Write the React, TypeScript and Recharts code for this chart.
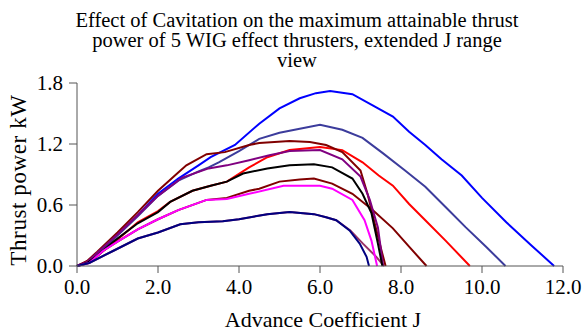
import { LineChart, Line, XAxis, YAxis } from "recharts";

// [advance coefficient J, thrust power kW]
const blueNoCav: [number, number][] = [
  [0, 0], [0.25, 0.04], [0.5, 0.12], [1.0, 0.31], [1.5, 0.5], [2.0, 0.71], [2.5, 0.86],
  [3.0, 0.99], [3.3, 1.07], [3.9, 1.19], [4.5, 1.4], [5.0, 1.55], [5.5, 1.65], [5.9, 1.7],
  [6.25, 1.72], [6.8, 1.69], [7.3, 1.58], [7.8, 1.47], [8.2, 1.32], [8.6, 1.19], [9.0, 1.05],
  [9.5, 0.89], [10.0, 0.67], [10.6, 0.43], [11.2, 0.21], [11.78, 0],
];
const indigoNoCav: [number, number][] = [
  [0, 0], [0.25, 0.04], [0.5, 0.12], [1.0, 0.3], [1.5, 0.49], [2.0, 0.69], [2.5, 0.84],
  [3.0, 0.93], [3.25, 0.97], [3.5, 1.02], [4.0, 1.13], [4.5, 1.25], [5.0, 1.31], [5.5, 1.35],
  [6.0, 1.39], [6.55, 1.34], [7.05, 1.26], [7.55, 1.11], [8.1, 0.94], [8.6, 0.78], [9.1, 0.58],
  [9.6, 0.38], [10.1, 0.19], [10.58, 0],
];
const redNoCav: [number, number][] = [
  [0, 0], [0.25, 0.03], [0.5, 0.1], [1.0, 0.26], [1.5, 0.43], [2.0, 0.54], [2.3, 0.63],
  [2.85, 0.74], [3.3, 0.79], [3.7, 0.83], [4.25, 0.97], [4.7, 1.07], [5.25, 1.14], [6.0, 1.17],
  [6.55, 1.14], [7.05, 1.02], [7.45, 0.89], [7.8, 0.79], [8.2, 0.61], [8.6, 0.45], [9.1, 0.25],
  [9.7, 0],
];
const maroonNoCav: [number, number][] = [
  [0, 0], [0.3, 0.03], [0.65, 0.15], [1.0, 0.24], [1.5, 0.36], [2.0, 0.46], [2.5, 0.55],
  [3.2, 0.65], [3.7, 0.67], [4.25, 0.74], [4.5, 0.76], [5.0, 0.83], [5.5, 0.85], [5.85, 0.86],
  [6.3, 0.81], [6.8, 0.71], [7.3, 0.55], [7.8, 0.37], [8.2, 0.19], [8.63, 0],
];
const plumNoCav: [number, number][] = [
  [0, 0], [0.3, 0.03], [0.9, 0.15], [1.5, 0.27], [2.0, 0.33], [2.55, 0.41], [3.0, 0.43],
  [3.6, 0.44], [3.8, 0.45], [4.0, 0.46], [4.7, 0.51], [5.25, 0.53], [5.85, 0.51], [6.15, 0.48],
  [6.4, 0.45], [6.75, 0.35], [7.06, 0.22], [7.39, 0.09], [7.58, 0],
];

const darkRedCav: [number, number][] = [
  [0, 0], [0.25, 0.05], [0.5, 0.14], [1.0, 0.33], [1.5, 0.53], [2.0, 0.74], [2.5, 0.92],
  [2.7, 0.99], [3.2, 1.1], [3.65, 1.12], [4.25, 1.19], [4.5, 1.21], [5.25, 1.23], [5.75, 1.22],
  [6.15, 1.19], [6.55, 1.12], [7.0, 0.94], [7.18, 0.7], [7.35, 0.42], [7.52, 0.15], [7.62, 0],
];
const violetCav: [number, number][] = [
  [0, 0], [0.25, 0.04], [0.5, 0.13], [1.0, 0.31], [1.5, 0.5], [2.0, 0.69], [2.6, 0.87],
  [3.25, 0.96], [3.7, 0.99], [4.25, 1.04], [4.75, 1.09], [5.25, 1.13], [6.0, 1.14],
  [6.55, 1.05], [7.0, 0.88], [7.23, 0.65], [7.43, 0.38], [7.56, 0],
];
const blackCav: [number, number][] = [
  [0, 0], [0.25, 0.03], [0.5, 0.1], [0.9, 0.24], [1.5, 0.42], [2.0, 0.53], [2.3, 0.63],
  [2.85, 0.74], [3.3, 0.79], [3.7, 0.83], [4.1, 0.91], [4.7, 0.96], [5.25, 0.99], [5.85, 1.0],
  [6.3, 0.97], [6.8, 0.86], [7.05, 0.71], [7.27, 0.52], [7.43, 0.22], [7.54, 0],
];
const pinkCav: [number, number][] = [
  [0, 0], [0.3, 0.03], [0.65, 0.15], [1.0, 0.24], [1.5, 0.36], [2.0, 0.46], [2.5, 0.55],
  [3.2, 0.65], [3.7, 0.66], [4.25, 0.71], [5.1, 0.79], [6.0, 0.79], [6.3, 0.76], [6.8, 0.65],
  [7.1, 0.45], [7.27, 0.25], [7.41, 0],
];
const navyCav: [number, number][] = [
  [0, 0], [0.3, 0.03], [0.9, 0.15], [1.5, 0.27], [2.0, 0.33], [2.55, 0.41], [3.0, 0.43],
  [3.6, 0.44], [3.8, 0.45], [4.0, 0.46], [4.7, 0.51], [5.25, 0.53], [5.85, 0.51], [6.15, 0.48],
  [6.4, 0.45], [6.73, 0.35], [6.98, 0.22], [7.15, 0.09], [7.21, 0],
];

const series = [
  { name: "blue", pts: blueNoCav, color: "#0000ff" },
  { name: "indigo", pts: indigoNoCav, color: "#3c3c9c" },
  { name: "red", pts: redNoCav, color: "#ff0000" },
  { name: "maroon", pts: maroonNoCav, color: "#800000" },
  { name: "plum", pts: plumNoCav, color: "#993366" },
  { name: "darkred", pts: darkRedCav, color: "#800000" },
  { name: "violet", pts: violetCav, color: "#800080" },
  { name: "black", pts: blackCav, color: "#000000" },
  { name: "pink", pts: pinkCav, color: "#ff00ff" },
  { name: "navy", pts: navyCav, color: "#000080" },
];

const xTicks = [0, 2, 4, 6, 8, 10, 12];
const yTicks = [0, 0.6, 1.2, 1.8];
const titleLines = [
  "Effect of Cavitation on the maximum attainable thrust",
  "power of 5 WIG effect thrusters, extended J range",
  "view",
];

const font = "Liberation Serif";

export default function App() {
  return (
    <div style={{ position: "relative", width: 582, height: 333, background: "#fff", fontFamily: font }}>
      <style>{`body{margin:0} .recharts-cartesian-axis-tick-value{font-family:'Liberation Serif'}`}</style>
      <LineChart width={582} height={333} margin={{ top: 83, right: 19, left: 17, bottom: 37 }}>
        <XAxis
          type="number"
          dataKey="j"
          domain={[0, 12]}
          ticks={xTicks}
          tickFormatter={(v: number) => v.toFixed(1)}
          stroke="#555"
          tickSize={7}
          tickMargin={6}
          height={30}
          tick={{ fontSize: 21, fill: "#000" }}
          allowDuplicatedCategory={false}
        />
        <YAxis
          type="number"
          domain={[0, 1.8]}
          ticks={yTicks}
          tickFormatter={(v: number) => v.toFixed(1)}
          stroke="#555"
          tickSize={8}
          tickMargin={6}
          width={60}
          tick={{ fontSize: 21, fill: "#000" }}
        />
        {series.map((s) => (
          <Line
            key={s.name}
            data={s.pts.map(([j, p]) => ({ j, p }))}
            dataKey="p"
            type="linear"
            stroke={s.color}
            strokeWidth={2}
            dot={false}
            isAnimationActive={false}
          />
        ))}
      </LineChart>
      <svg width={582} height={333} style={{ position: "absolute", left: 0, top: 0, pointerEvents: "none" }}>
        {titleLines.map((t, i) => (
          <text key={i} x={297} y={27 + i * 20} textAnchor="middle" fontSize={20.5} fontFamily={font}>
            {t}
          </text>
        ))}
        <text x={323} y={327} textAnchor="middle" fontSize={22} fontFamily={font}>
          Advance Coefficient J
        </text>
        <text x={26} y={180} textAnchor="middle" fontSize={23} letterSpacing={0.6} fontFamily={font} transform="rotate(-90 26 180)">
          Thrust power kW
        </text>
      </svg>
    </div>
  );
}
